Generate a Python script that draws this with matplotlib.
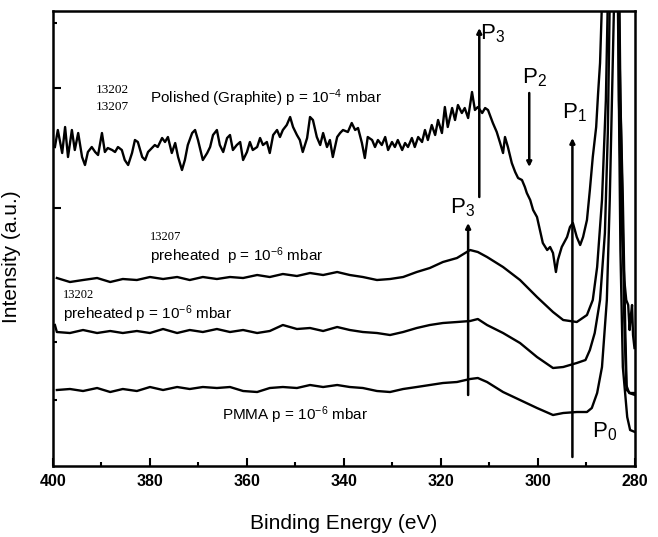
import matplotlib
matplotlib.use("Agg")
import matplotlib.pyplot as plt
from matplotlib.ticker import FixedLocator, NullFormatter

plt.rcParams['font.family'] = ['Liberation Sans', 'DejaVu Sans']
plt.rcParams['mathtext.fontset'] = 'custom'
plt.rcParams['mathtext.rm'] = 'Liberation Sans'
plt.rcParams['mathtext.it'] = 'Liberation Sans:italic'

# ---------------- data (binding energy in eV, intensity in a.u.) ----------------
energy_polished = [
    399.6, 399.0, 398.1, 397.5, 396.9, 396.1, 395.5, 394.8, 394.0, 393.4,
    392.8, 392.0, 391.3, 390.7, 389.9, 389.3, 388.7, 387.8, 387.2, 386.6,
    385.8, 385.2, 384.5, 383.7, 383.1, 382.5, 381.6, 381.0, 380.4, 379.6,
    379.0, 378.4, 377.5, 376.9, 376.3, 375.5, 374.8, 374.2, 373.4, 372.8,
    372.2, 371.3, 370.7, 370.1, 369.1, 368.2, 367.6, 367.0, 366.2, 365.6,
    364.9, 364.1, 363.5, 362.9, 362.1, 361.4, 360.8, 360.0, 359.4, 358.8,
    357.9, 357.3, 356.7, 355.9, 355.3, 354.6, 353.8, 353.2, 352.6, 351.8,
    351.1, 350.5, 349.7, 349.1, 348.5, 347.6, 347.0, 346.4, 345.6, 344.9,
    344.3, 343.5, 342.9, 342.3, 341.4, 340.8, 340.2, 339.2, 338.4, 337.7,
    337.1, 336.3, 335.7, 335.1, 334.2, 333.6, 333.0, 332.2, 331.5, 330.9,
    330.1, 329.5, 328.9, 328.0, 327.4, 326.8, 326.0, 325.4, 324.7, 323.9,
    323.3, 322.7, 321.9, 321.2, 320.6, 319.8, 319.2, 318.6, 317.7, 317.1,
    316.5, 315.7, 315.1, 314.4, 313.6, 313.0, 312.4, 311.5, 310.9, 310.3,
    309.3, 308.5, 307.8, 307.2, 306.8, 306.2, 305.4, 304.7, 304.1, 303.3,
    302.7, 302.3, 301.6, 301.0, 300.2, 299.6, 299.0, 298.1, 297.5, 296.9,
    296.3, 295.9, 295.1, 294.0, 293.4, 292.8, 292.0, 291.3, 290.7, 289.9,
    289.3, 288.7, 288.0, 287.6, 287.2, 286.7, 286.0, 285.0, 284.3, 283.6,
    283.3, 283.0, 282.6, 282.2, 281.8, 281.4, 281.1, 280.9, 280.6, 280.4,
    280.1]
intensity_polished = [
    319, 336, 313, 339, 309, 336, 316, 333, 309, 301,
    314, 319, 314, 311, 333, 314, 318, 316, 314, 319,
    316, 306, 301, 313, 326, 324, 309, 306, 314, 318,
    321, 319, 328, 324, 329, 313, 323, 309, 296, 306,
    321, 333, 336, 326, 306, 313, 319, 331, 336, 321,
    314, 328, 331, 316, 321, 324, 306, 314, 324, 316,
    319, 328, 321, 324, 313, 331, 336, 329, 336, 341,
    349, 339, 331, 326, 314, 328, 349, 346, 329, 321,
    333, 319, 326, 309, 329, 333, 336, 334, 343, 336,
    338, 323, 308, 329, 326, 319, 326, 321, 329, 316,
    324, 319, 326, 316, 323, 319, 328, 319, 329, 324,
    336, 326, 341, 331, 346, 333, 359, 339, 358, 346,
    361, 353, 358, 348, 374, 356, 359, 353, 358, 356,
    343, 334, 323, 313, 329, 319, 303, 294, 288, 286,
    279, 273, 266, 256, 249, 236, 223, 216, 219, 213,
    194, 206, 219, 229, 239, 243, 229, 221, 229, 246,
    276, 309, 339, 373, 403, 480, 600, 700, 700, 560,
    366, 296, 226, 186, 166, 161, 136, 148, 161, 131,
    118]

energy_smooth = [
    399.2, 396.5, 393.8, 390.9, 388.2, 385.6, 382.7, 380.0, 377.3, 374.4,
    371.8, 369.1, 366.2, 363.5, 360.8, 357.9, 355.3, 352.6, 349.7, 347.0,
    344.3, 341.4, 338.8, 336.1, 333.2, 330.5, 327.8, 325.0, 322.3, 319.6,
    316.7, 314.0, 312.4, 310.5, 307.2, 303.7, 300.2, 296.9, 294.8, 292.0]

energy_13207_tail = [289.9, 288.7, 287.8, 286.8, 286.0, 285.6, 285.0, 284.4,
                     283.6, 283.0, 282.5, 282.0, 281.7, 281.0, 280.0]
intensity_13207 = [
    188, 184, 186, 188, 184, 187, 186, 189, 187, 189,
    186, 189, 187, 189, 188, 191, 189, 192, 190, 193,
    191, 194, 191, 189, 186, 187, 189, 194, 198, 204,
    208, 216, 214, 209, 199, 186, 169, 154, 146, 144,
    151, 166, 199, 266, 366, 466, 800, 800,
    650, 366, 266, 136, 76, 73, 73]

energy_13202_tail = [290.2, 289.3, 288.3, 287.2, 286.2, 285.6, 285.2, 284.6,
                     283.8, 283.2, 282.6, 282.2, 281.8, 281.2, 280.0]
intensity_13202 = [
    134, 133, 136, 133, 135, 133, 135, 133, 137, 133,
    136, 134, 137, 134, 136, 133, 135, 141, 137, 138,
    135, 139, 136, 134, 133, 131, 134, 138, 141, 143,
    144, 145, 147, 141, 133, 123, 109, 98, 99, 103,
    106, 116, 133, 166, 233, 333, 466, 800,
    700, 416, 266, 146, 81, 73, 71]

energy_pmma_tail = [289.9, 288.9, 287.8, 286.8, 285.8, 285.2, 284.6, 284.3,
                    283.9, 283.6, 283.0, 282.5, 281.6, 281.0, 280.0]
intensity_pmma = [
    76, 77, 75, 78, 74, 77, 75, 79, 76, 79,
    77, 79, 78, 79, 75, 74, 78, 79, 78, 81,
    79, 81, 79, 78, 75, 74, 77, 79, 81, 83,
    84, 87, 88, 84, 74, 66, 58, 51, 53, 54,
    54, 58, 73, 99, 166, 266, 399, 466,
    800, 500, 216, 99, 49, 36, 34]

# peak markers: (label, energy, tail intensity, head intensity)
marker_labels = ["P$_3$", "P$_2$", "P$_1$", "P$_3$"]
marker_energy = [312.1, 301.8, 292.9, 314.4]
marker_tail = [269, 373, 9, 71]
marker_head = [438, 299, 328, 243]
marker_text_pos = [(309.3, 432), (300.8, 388), (292.4, 353), (315.6, 258)]
p0_label_pos = (286.3, 34)

x_major = [400, 380, 360, 340, 320, 300, 280]
x_minor = [390, 370, 350, 330, 310, 290]
y_major = [378, 258]
y_minor = [443, 124, 66]

# ---------------- figure ----------------
fig = plt.figure(figsize=(6.58, 5.37), dpi=100)
ax = fig.add_axes([0.0805, 0.1322, 0.8845, 0.8473])

lw = 1.7
ax.plot(energy_polished, intensity_polished, color='black', lw=lw)
ax.plot(energy_smooth + energy_13207_tail, intensity_13207, color='black', lw=lw)
ax.plot([399.6] + energy_smooth + energy_13202_tail, [141] + intensity_13202, color='black', lw=lw)
ax.plot(energy_smooth + energy_pmma_tail, intensity_pmma, color='black', lw=lw)

for lab, e, t, h, pos in zip(marker_labels, marker_energy, marker_tail, marker_head, marker_text_pos):
    ax.annotate('', xy=(e, h), xytext=(e, t),
                arrowprops=dict(arrowstyle='-|>', lw=1.8, color='black',
                                mutation_scale=7, shrinkA=0, shrinkB=0))
    ax.text(pos[0], pos[1], lab, fontsize=16, ha='center', va='center')
ax.text(p0_label_pos[0], p0_label_pos[1], "P$_0$", fontsize=16, ha='center', va='center')

serif = ['Liberation Serif', 'DejaVu Serif']
ax.text(391.1, 376, "13202", fontsize=9.5, family=serif, ha='left', va='center')
ax.text(391.1, 359, "13207", fontsize=9.5, family=serif, ha='left', va='center')
ax.text(380.0, 368, "Polished (Graphite) p = 10$^{-4}$ mbar", fontsize=11, ha='left', va='center')
ax.text(380.0, 229, "13207", fontsize=9, family=serif, ha='left', va='center')
ax.text(380.0, 210, "preheated  p = 10$^{-6}$ mbar", fontsize=11, ha='left', va='center')
ax.text(397.9, 171, "13202", fontsize=9, family=serif, ha='left', va='center')
ax.text(397.9, 152, "preheated p = 10$^{-6}$ mbar", fontsize=11, ha='left', va='center')
ax.text(365.2, 51, "PMMA p = 10$^{-6}$ mbar", fontsize=11, ha='left', va='center')

ax.set_xlim(400, 280)
ax.set_ylim(0, 455)

ax.xaxis.set_major_locator(FixedLocator(x_major))
ax.xaxis.set_minor_locator(FixedLocator(x_minor))
ax.yaxis.set_major_locator(FixedLocator(y_major))
ax.yaxis.set_minor_locator(FixedLocator(y_minor))
ax.yaxis.set_major_formatter(NullFormatter())
ax.tick_params(axis='both', which='both', direction='in', top=False, right=False, width=1.5)
ax.tick_params(axis='x', which='major', length=6, labelsize=11.5, pad=6)
ax.tick_params(axis='x', which='minor', length=3)
ax.tick_params(axis='y', which='major', length=6)
ax.tick_params(axis='y', which='minor', length=3)
for lbl in ax.get_xticklabels():
    lbl.set_fontweight('bold')
for s in ax.spines.values():
    s.set_linewidth(1.8)

ax.set_xlabel("Binding Energy (eV)", fontsize=15)
ax.xaxis.set_label_coords(0.5, -0.105)
ax.set_ylabel("Intensity (a.u.)", fontsize=15)
ax.yaxis.set_label_coords(-0.055, 0.46)

fig.savefig("out.png", dpi=100)
